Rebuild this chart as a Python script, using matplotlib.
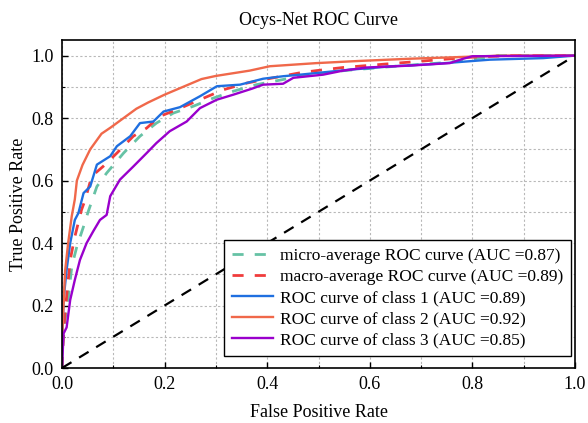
import numpy as np
import matplotlib
matplotlib.use("Agg")
import matplotlib.pyplot as plt
from matplotlib.ticker import MultipleLocator

# values
micro_fpr = [0, 0.002, 0.006, 0.012, 0.019, 0.029, 0.042, 0.051, 0.068, 0.087, 0.12, 0.152,
             0.184, 0.217, 0.256, 0.295, 0.334, 0.379, 0.464, 0.55, 0.65, 0.75, 0.85, 1.0]
micro_tpr = [0, 0.08, 0.154, 0.218, 0.325, 0.389, 0.453, 0.50, 0.581, 0.624, 0.688, 0.742,
             0.784, 0.816, 0.838, 0.864, 0.886, 0.907, 0.934, 0.952, 0.966, 0.978, 1.0, 1.0]

macro_fpr = [0, 0.003, 0.009, 0.016, 0.025, 0.038, 0.045, 0.058, 0.08, 0.107, 0.139, 0.165,
             0.191, 0.224, 0.269, 0.315, 0.36, 0.399, 0.464, 0.496, 0.548, 0.691, 0.788, 0.87, 1.0]
macro_tpr = [0, 0.12, 0.229, 0.346, 0.42, 0.506, 0.538, 0.614, 0.645, 0.688, 0.742, 0.768,
             0.806, 0.827, 0.859, 0.891, 0.912, 0.925, 0.945, 0.952, 0.962, 0.981, 0.994, 1.0, 1.0]

c1_fpr = [0, 0.001, 0.003, 0.009, 0.016, 0.025, 0.032, 0.042, 0.055, 0.068, 0.094, 0.107,
          0.133, 0.152, 0.178, 0.198, 0.23, 0.269, 0.302, 0.347, 0.392, 0.431, 0.464, 0.561,
          0.645, 0.723, 0.834, 0.938, 1.0]
c1_tpr = [0, 0.1, 0.218, 0.314, 0.40, 0.474, 0.496, 0.56, 0.581, 0.651, 0.678, 0.71,
          0.742, 0.784, 0.789, 0.821, 0.835, 0.87, 0.902, 0.907, 0.926, 0.934, 0.939, 0.955,
          0.966, 0.973, 0.987, 0.992, 1.0]

c2_fpr = [0, 0, 0.003, 0.006, 0.012, 0.019, 0.025, 0.029, 0.040, 0.055, 0.077, 0.095, 0.12,
          0.145, 0.168, 0.20, 0.236, 0.272, 0.30, 0.366, 0.405, 0.496, 0.58, 0.678, 0.75, 0.82,
          0.87, 1.0]
c2_tpr = [0, 0.08, 0.2, 0.31, 0.40, 0.486, 0.54, 0.60, 0.65, 0.70, 0.75, 0.77, 0.80,
          0.83, 0.85, 0.875, 0.90, 0.925, 0.935, 0.952, 0.966, 0.976, 0.983, 0.990, 0.994, 0.998,
          1.0, 1.0]

c3_fpr = [0, 0.003, 0.009, 0.016, 0.025, 0.035, 0.048, 0.061, 0.074, 0.087, 0.094, 0.113,
          0.139, 0.165, 0.184, 0.21, 0.243, 0.269, 0.302, 0.334, 0.37, 0.392, 0.431, 0.451,
          0.509, 0.548, 0.594, 0.678, 0.756, 0.782, 0.80, 1.0]
c3_tpr = [0, 0.11, 0.13, 0.218, 0.282, 0.346, 0.40, 0.438, 0.474, 0.49, 0.55, 0.603,
          0.645, 0.688, 0.72, 0.758, 0.789, 0.832, 0.859, 0.875, 0.894, 0.907, 0.91, 0.929,
          0.939, 0.952, 0.962, 0.968, 0.976, 0.99, 0.998, 1.0]

labels = ["micro-average ROC curve (AUC =0.87)",
          "macro-average ROC curve (AUC =0.89)",
          "ROC curve of class 1 (AUC =0.89)",
          "ROC curve of class 2 (AUC =0.92)",
          "ROC curve of class 3 (AUC =0.85)"]

plt.rcParams['font.family'] = ['Liberation Serif', 'DejaVu Serif']
plt.rcParams['font.size'] = 13

fig = plt.figure(figsize=(5.88, 4.23), dpi=100)
ax = fig.add_axes([62 / 588, 1 - 368 / 423, 513 / 588, 328 / 423])

ax.plot(micro_fpr, micro_tpr, color='#66c2a5', lw=2, linestyle=(0, (4, 4)), label=labels[0])
ax.plot(macro_fpr, macro_tpr, color='#f03c3c', lw=2, linestyle=(0, (4, 4)), label=labels[1])
ax.plot(c1_fpr, c1_tpr, color='#1f6fe0', lw=1.7, label=labels[2])
ax.plot(c2_fpr, c2_tpr, color='#f0684a', lw=1.7, label=labels[3])
ax.plot(c3_fpr, c3_tpr, color='#9a00cc', lw=1.7, label=labels[4])
ax.plot([0, 1], [0, 1], color='black', lw=1.6, linestyle=(0, (5, 4)))

ax.set_xlim(0, 1)
ax.set_ylim(0, 1.05)
ax.xaxis.set_major_locator(MultipleLocator(0.2))
ax.yaxis.set_major_locator(MultipleLocator(0.2))
ax.xaxis.set_minor_locator(MultipleLocator(0.1))
ax.yaxis.set_minor_locator(MultipleLocator(0.1))
ax.tick_params(which='major', direction='in', length=4, width=1, pad=6)
ax.tick_params(which='minor', direction='in', length=2, width=0.8)
ax.grid(True, which='both', linestyle=(0, (2, 2)), color='#b8b8b8', lw=0.8)
for s in ax.spines.values():
    s.set_linewidth(1.2)

ax.set_xlabel('False Positive Rate', labelpad=8)
ax.set_ylabel('True Positive Rate', labelpad=3)
ax.set_title('Ocys-Net ROC Curve', fontsize=13, pad=11)

leg = ax.legend(loc='lower right', bbox_to_anchor=(0.993, 0.036), borderaxespad=0,
                fontsize=12.5, fancybox=False, edgecolor='black', framealpha=1,
                handlelength=2.4, labelspacing=0.29, borderpad=0.45, handletextpad=0.4)
leg.get_frame().set_linewidth(1.0)

fig.savefig('out.png', dpi=100)
